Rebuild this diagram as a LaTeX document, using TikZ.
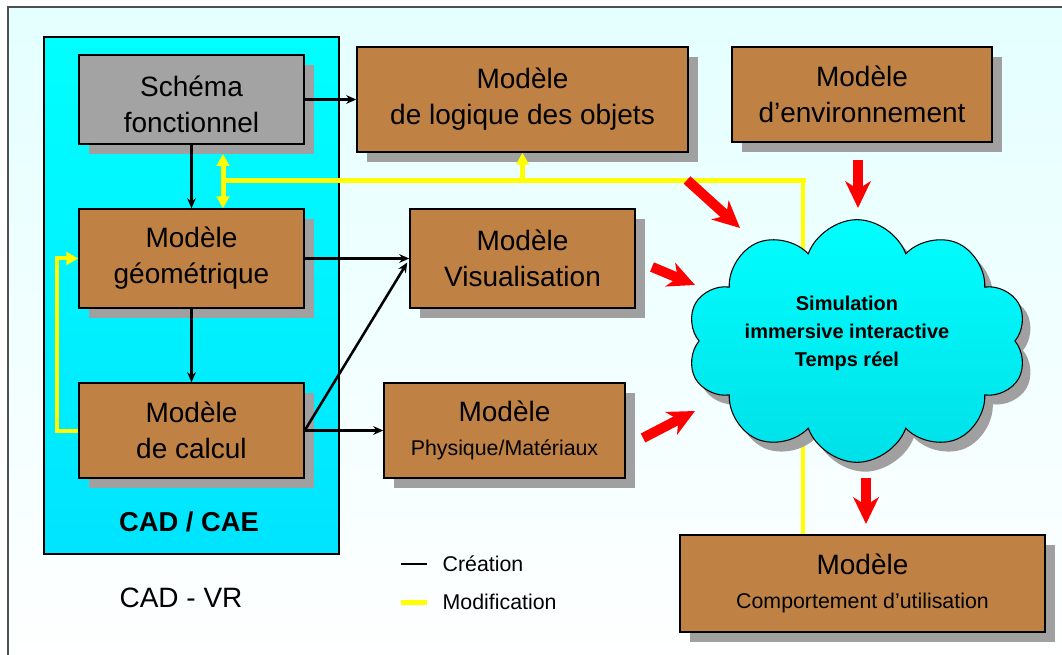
\documentclass[tikz,border=0pt]{standalone}
\usepackage{fontspec}
\setmainfont{Liberation Sans}
\usetikzlibrary{shapes.symbols,shadows,arrows.meta,calc}
\definecolor{boxbrown}{RGB}{192,130,68}
\definecolor{shgray}{RGB}{160,160,160}
\definecolor{schgray}{RGB}{163,163,163}
\definecolor{bgtop}{RGB}{228,255,255}
\definecolor{cadtop}{RGB}{0,255,255}
\definecolor{cadbot}{RGB}{0,228,255}
\definecolor{cloudbot}{RGB}{0,224,232}
\definecolor{yel}{RGB}{255,255,0}
\definecolor{framegray}{RGB}{80,80,80}
\definecolor{redarr}{RGB}{255,0,0}
\begin{document}
\begin{tikzpicture}[x=0.75pt,y=-0.75pt,
  shad/.style={drop shadow={shadow xshift=7.5pt,shadow yshift=-7.5pt,fill=shgray,opacity=1}},
  box/.style={draw=black,line width=1.1pt,fill=boxbrown,shad,align=center,inner sep=0pt,
    font=\fontsize{21}{27}\selectfont},
  graybox/.style={box,fill=schgray},
  cadbox/.style={draw=black,line width=1.1pt,top color=cadtop,bottom color=cadbot},
  blk/.style={draw=black,line width=1.9pt,-{Stealth[length=7.5pt,width=6.5pt]}},
  yl/.style={draw=yel,line width=3.75pt},
  yltip/.style={-{Triangle[length=9pt,width=9.5pt]}},
  redarrow/.style={draw=redarr,line width=7.5pt,-{Stealth[length=20pt,width=19pt,inset=6pt]}},
  label/.style={font=\fontsize{16}{20}\selectfont,anchor=west},
]
\useasboundingbox (0,0) rectangle (1062,655);
\fill[white] (0,0) rectangle (1062,655);
\path[draw=framegray,line width=1.2pt,top color=bgtop,bottom color=white] (8,7) rectangle (1080,680);

% CAD / CAE container
\node[cadbox,minimum width=221.25pt,minimum height=387.75pt] (cad) at (191.5,295.5) {};
\node[font=\bfseries\fontsize{20.5}{24}\selectfont] (cadlabel) at (189,522) {CAD / CAE};
\node[font=\fontsize{21}{24}\selectfont] (vrlabel) at (181,598) {CAD - VR};

% boxes
\node[graybox,minimum width=168.75pt,minimum height=66.75pt] (schema) at (191.5,99.5) {\rule{0pt}{23pt}Schéma\\fonctionnel};
\node[box,minimum width=168.75pt,minimum height=74.25pt] (geom) at (191.5,258.5) {Modèle\\géométrique};
\node[box,minimum width=168.75pt,minimum height=71.25pt] (calcul) at (191.5,430.5) {Modèle\\de calcul};
\node[box,minimum width=248.25pt,minimum height=78.75pt] (logique) at (522.5,99.5) {Modèle\\de logique des objets};
\node[box,minimum width=195pt,minimum height=71.25pt] (env) at (862,94.5) {Modèle\\d’environnement};
\node[box,minimum width=168.75pt,minimum height=74.25pt] (visu) at (522.5,258.5) {Modèle\\Visualisation};
\node[box,minimum width=180.75pt,minimum height=71.25pt] (phys) at (504.5,430.5) {Modèle\\[-1pt]{\fontsize{16}{20}\selectfont Physique/Matériaux}};
\node[box,minimum width=273.75pt,minimum height=72.75pt] (comport) at (862.5,583.5) {Modèle\\[-1pt]{\fontsize{16}{20}\selectfont Comportement d’utilisation}};

% creation arrows
\draw[blk] (schema.east) -- (logique.west);
\draw[blk] (schema.south) -- (geom.north);
\draw[blk] (geom.south) -- (calcul.north);
\draw[blk] (geom.east) -- (visu.west);
\draw[blk] (calcul.east) -- ($(visu.west)+(-2,4)$);
\draw[blk] (calcul.east) -- (phys.west);

% modification lines
\coordinate (ya) at (223,181);
\coordinate (yc) at (803,181);
\coordinate (ytop) at (223,154);
\draw[yl,draw=yel,line width=2.4pt] (yc) -- (yc |- comport.north);
\draw[yl,line cap=rect] (ya) -- (yc);
\draw[yl,{Triangle[length=9pt,width=9.5pt]}-{Triangle[length=9pt,width=9.5pt]}] (ytop) -- (ytop |- geom.north);
\draw[yl,yltip] (logique.south |- ya) -- (logique.south);
\draw[yl,line width=3pt,yltip] (calcul.west) -- ++(-21,0) |- (geom.west);

% cloud
\node[cloud,cloud puffs=10,cloud puff arc=140,cloud ignores aspect,
  minimum width=255pt,minimum height=182pt,draw=black,line width=0.8pt,
  top color=cadtop,bottom color=cloudbot,
  drop shadow={shadow xshift=6pt,shadow yshift=-7pt,fill=shgray,opacity=1}] (sim) at (857,341) {};
\node[font=\bfseries\fontsize{15}{21}\selectfont,align=center] (simtext) at ($(sim.center)+(-10,-8)$)
  {Simulation\\immersive interactive\\Temps réel};

% red arrows
\coordinate (r1t) at (687,180); \coordinate (r1h) at (740,228);
\coordinate (r2t) at (858,160); \coordinate (r2h) at (858,208);
\coordinate (r3t) at (652,267); \coordinate (r3h) at (695,285);
\coordinate (r4t) at (643,438); \coordinate (r4h) at (695,411);
\coordinate (r5t) at (866,478); \coordinate (r5h) at (866,524);
\draw[redarrow] (r1t) -- (r1h);
\draw[redarrow] (r2t) -- (r2h);
\draw[redarrow] (r3t) -- (r3h);
\draw[redarrow] (r4t) -- (r4h);
\draw[redarrow] (r5t) -- (r5h);

% legend
\coordinate (l1a) at (401,564); \coordinate (l1b) at (427,564);
\coordinate (l2a) at (401,602); \coordinate (l2b) at (427,602);
\draw[black,line width=1.5pt] (l1a) -- (l1b);
\draw[yel,line width=3.75pt] (l2a) -- (l2b);
\node[label] (lcre) at (438,564) {Création};
\node[label] (lmod) at (438,602) {Modification};
\end{tikzpicture}
\end{document}
